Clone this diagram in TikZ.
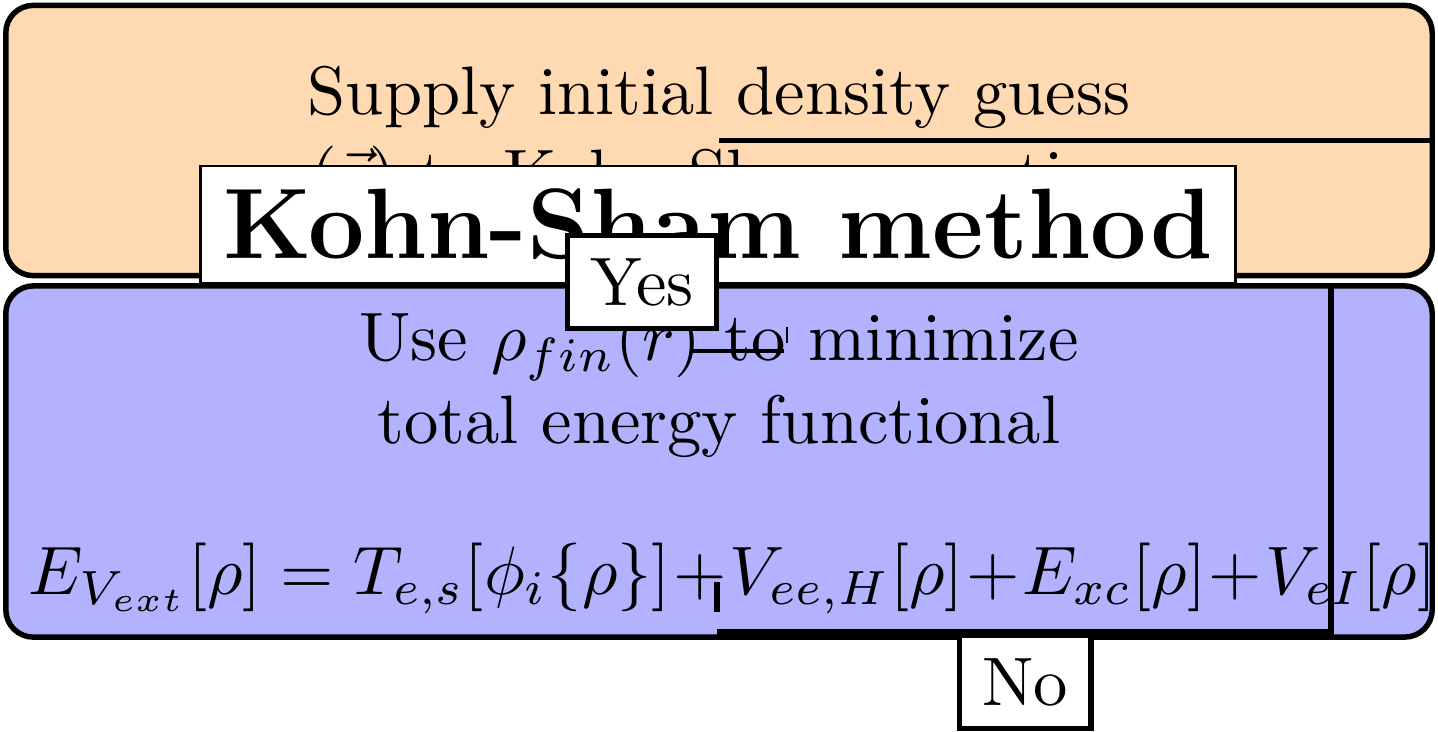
\documentclass[tikz,border=0pt]{standalone}
\usetikzlibrary{positioning}
\newcommand{\plusop}{\mkern.75mu{+}\mkern.75mu}
\begin{document}
\begin{tikzpicture}[x=0.1458pt, y=-0.1458pt,
    block/.style={draw, thick, rounded corners, align=center, text width=201.3pt},
    answer/.style={draw, thick, fill=white},
    flow/.style={draw, thick}]
    \useasboundingbox (0,0) rectangle (1438,731);

    \node[block, fill=orange!30, minimum height=39.4pt] (guess) at (719,140.5)
        {Supply initial density guess\\ $\rho(\vec{r})$ to Kohn-Sham equations};
    \node[block, fill=blue!30, minimum height=51.2pt] (energy) at (719,461.5)
        {Use $\rho_{fin}(\vec{r})$ to minimize\\ total energy functional\\[10pt]
         \mbox{$E_{V_{ext}}[\rho] = T_{e,s}[\phi_i\{\rho\}]\plusop V_{ee,H}[\rho]\plusop E_{xc}[\rho]\plusop V_{eI}[\rho]$}};
    \node[draw, fill=white] (title) at (718,224.5)
        {\fontsize{14.6pt}{18pt}\selectfont\bfseries Kohn-Sham method};

    % loop lines
    \draw[flow] (guess.center) -- (guess.east);
    \coordinate (loopTop) at (1331,285);
    \coordinate (loopBot) at (1331,632);
    \coordinate (loopEnd) at (717,632);
    \draw[flow] (loopTop) -- (loopBot) -- (loopEnd);
    \coordinate (barTop) at (717,582);
    \coordinate (barBot) at (717,612);
    \draw[flow] (barTop) -- (barBot);
    \coordinate (strikeA) at (690,351);
    \coordinate (strikeB) at (784,351);
    \coordinate (tickTop) at (787,327);
    \coordinate (tickBot) at (787,343);
    \draw[semithick] (strikeA) -- (strikeB);
    \draw (tickTop) -- (tickBot);

    \node[answer] (yes) at (642,282) {Yes};
    \node[answer] (no) at (1025,682) {No};
\end{tikzpicture}
\end{document}
